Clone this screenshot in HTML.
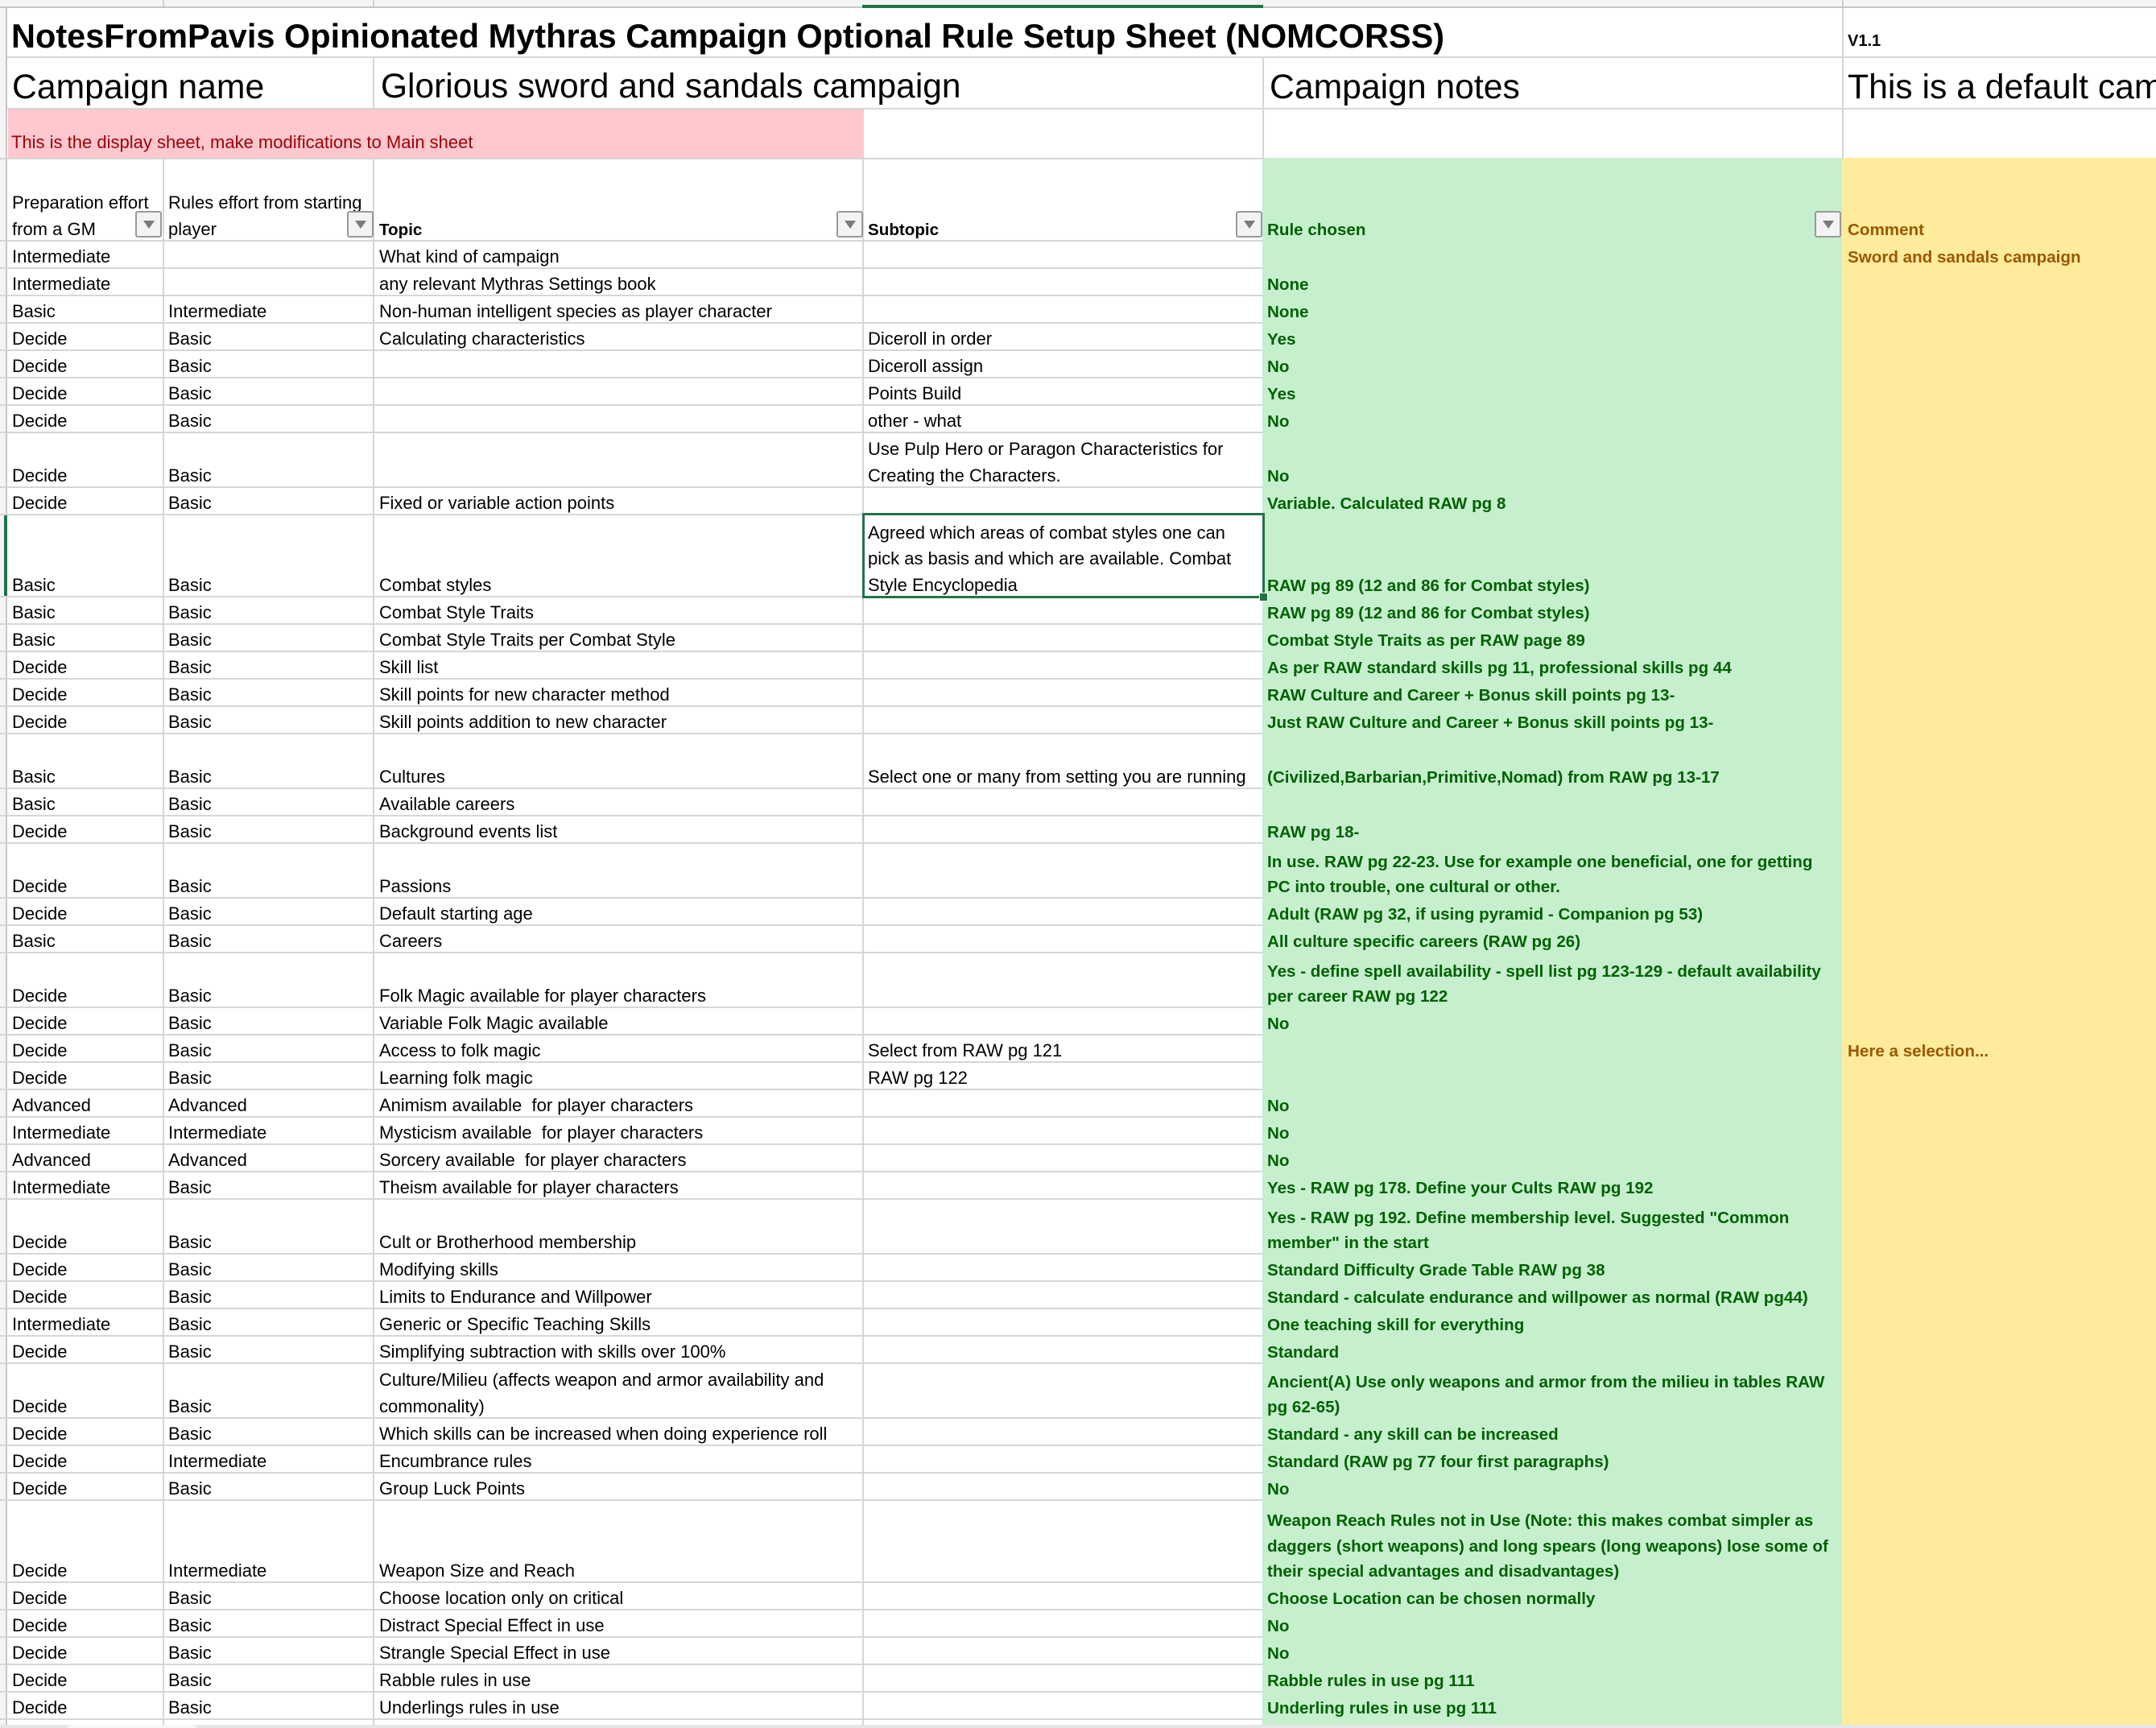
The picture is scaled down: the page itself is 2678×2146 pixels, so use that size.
<!DOCTYPE html>
<html><head><meta charset="utf-8">
<style>
html,body{margin:0;padding:0}
body{width:2678px;height:2146px;position:relative;overflow:hidden;background:#fff;font-family:"Liberation Sans",Arial,sans-serif;color:#000}
.abs{position:absolute}
.t{position:absolute;white-space:nowrap;line-height:1}
.r{position:absolute;left:0;width:2678px}
.r::before{content:"";position:absolute;left:0;top:-1px;width:1568px;height:2px;background:#d6d6d6}
.c{position:absolute;bottom:-1.5px;white-space:nowrap;font-size:22px;line-height:32.3px;color:#000}
.a{left:15px}.b{left:209px}.cc{left:471px}.d{left:1078px}
.bo{font-weight:bold;font-size:20.6px;line-height:31.3px;bottom:-2px}
.e{left:1574px;color:#006100}
.f{left:2295px;color:#9c5700}
.vl{position:absolute;width:2px;background:#d6d6d6}
.btn{position:absolute;top:262px;width:29px;height:29px;border:2px solid #9a9a9a;border-radius:3px;background:#f3f3f3}
.btn::after{content:"";position:absolute;left:8px;top:10px;border-left:7px solid transparent;border-right:7px solid transparent;border-top:10px solid #7b7b7b}
</style></head><body>

<!-- top strip -->
<div class="abs" style="left:0;top:0;width:2678px;height:8px;background:#f4f4f4"></div>
<div class="abs" style="left:0;top:8px;width:2678px;height:2px;background:#c6c6c6"></div>
<div class="abs" style="left:202px;top:0;width:2px;height:8px;background:#d0d0d0"></div>
<div class="abs" style="left:463px;top:0;width:2px;height:8px;background:#d0d0d0"></div>
<div class="abs" style="left:2288px;top:0;width:2px;height:8px;background:#d0d0d0"></div>
<div class="abs" style="left:1071px;top:6px;width:498px;height:4px;background:#217346"></div>

<!-- left strip -->
<div class="abs" style="left:0;top:10px;width:7px;height:2132px;background:#f4f4f4"></div>
<div class="abs" style="left:7px;top:10px;width:2px;height:2132px;background:#c6c6c6"></div>
<div class="abs" style="left:5px;top:639px;width:4px;height:102px;background:#217346"></div>

<!-- fills -->
<div class="abs" style="left:10px;top:136px;width:1063px;height:61px;background:#ffc7ce"></div>
<div class="abs" style="left:1568px;top:196px;width:720px;height:1946px;background:#c6efce"></div>
<div class="abs" style="left:2288px;top:196px;width:390px;height:1946px;background:#ffeb9c"></div>

<!-- upper horizontal gridlines -->
<div class="abs" style="left:9px;top:70px;width:2669px;height:2px;background:#d6d6d6"></div>
<div class="abs" style="left:9px;top:134px;width:2669px;height:2px;background:#d6d6d6"></div>

<!-- vertical gridlines -->
<div class="vl" style="left:202px;top:197px;height:1945px"></div>
<div class="vl" style="left:463px;top:71px;height:64px"></div>
<div class="vl" style="left:463px;top:197px;height:1945px"></div>
<div class="vl" style="left:1071px;top:197px;height:1945px"></div>
<div class="vl" style="left:1568px;top:71px;height:126px"></div>
<div class="vl" style="left:2288px;top:10px;height:187px"></div>

<!-- title rows -->
<div class="t" style="left:14px;top:23.6px;font-size:41.5px;font-weight:bold">NotesFromPavis Opinionated Mythras Campaign Optional Rule Setup Sheet (NOMCORSS)</div>
<div class="t" style="left:2295px;top:40.8px;font-size:20px;font-weight:bold">V1.1</div>
<div class="t" style="left:15px;top:87px;font-size:42.7px">Campaign name</div>
<div class="t" style="left:473px;top:87px;font-size:42.5px">Glorious sword and sandals campaign</div>
<div class="t" style="left:1577px;top:87px;font-size:42.7px">Campaign notes</div>
<div class="t" style="left:2295px;top:87px;font-size:42.7px">This is a default campaign</div>
<div class="t" style="left:14px;top:166px;font-size:22px;color:#9c0006">This is the display sheet, make modifications to Main sheet</div>

<!-- header row -->
<div class="r" style="top:197px;height:102.3px">
<div class="c a">Preparation effort<br>from a GM</div>
<div class="c b">Rules effort from starting<br>player</div>
<div class="c cc bo">Topic</div>
<div class="c d bo">Subtopic</div>
<div class="c e bo">Rule chosen</div>
<div class="c f bo">Comment</div>
</div>
<div class="btn" style="left:168px"></div>
<div class="btn" style="left:431px"></div>
<div class="btn" style="left:1039px"></div>
<div class="btn" style="left:1535px"></div>
<div class="btn" style="left:2254px"></div>

<!-- data rows -->
<div class="r" style="top:299.3px;height:34px"><div class="c a">Intermediate</div><div class="c cc">What kind of campaign</div><div class="c f bo">Sword and sandals campaign</div></div>
<div class="r" style="top:333.3px;height:34px"><div class="c a">Intermediate</div><div class="c cc">any relevant Mythras Settings book</div><div class="c e bo">None</div></div>
<div class="r" style="top:367.3px;height:34px"><div class="c a">Basic</div><div class="c b">Intermediate</div><div class="c cc">Non-human intelligent species as player character</div><div class="c e bo">None</div></div>
<div class="r" style="top:401.3px;height:34px"><div class="c a">Decide</div><div class="c b">Basic</div><div class="c cc">Calculating characteristics</div><div class="c d">Diceroll in order</div><div class="c e bo">Yes</div></div>
<div class="r" style="top:435.3px;height:34px"><div class="c a">Decide</div><div class="c b">Basic</div><div class="c d">Diceroll assign</div><div class="c e bo">No</div></div>
<div class="r" style="top:469.3px;height:34px"><div class="c a">Decide</div><div class="c b">Basic</div><div class="c d">Points Build</div><div class="c e bo">Yes</div></div>
<div class="r" style="top:503.3px;height:34px"><div class="c a">Decide</div><div class="c b">Basic</div><div class="c d">other - what</div><div class="c e bo">No</div></div>
<div class="r" style="top:537.3px;height:68px"><div class="c a">Decide</div><div class="c b">Basic</div><div class="c d">Use Pulp Hero or Paragon Characteristics for<br>Creating the Characters.</div><div class="c e bo">No</div></div>
<div class="r" style="top:605.3px;height:34px"><div class="c a">Decide</div><div class="c b">Basic</div><div class="c cc">Fixed or variable action points</div><div class="c e bo">Variable. Calculated RAW pg 8</div></div>
<div class="r" style="top:639.3px;height:102px"><div class="c a">Basic</div><div class="c b">Basic</div><div class="c cc">Combat styles</div><div class="c d">Agreed which areas of combat styles one can<br>pick as basis and which are available. Combat<br>Style Encyclopedia</div><div class="c e bo">RAW pg 89 (12 and 86 for Combat styles)</div></div>
<div class="r" style="top:741.3px;height:34px"><div class="c a">Basic</div><div class="c b">Basic</div><div class="c cc">Combat Style Traits</div><div class="c e bo">RAW pg 89 (12 and 86 for Combat styles)</div></div>
<div class="r" style="top:775.3px;height:34px"><div class="c a">Basic</div><div class="c b">Basic</div><div class="c cc">Combat Style Traits per Combat Style</div><div class="c e bo">Combat Style Traits as per RAW page 89</div></div>
<div class="r" style="top:809.3px;height:34px"><div class="c a">Decide</div><div class="c b">Basic</div><div class="c cc">Skill list</div><div class="c e bo">As per RAW standard skills pg 11, professional skills pg 44</div></div>
<div class="r" style="top:843.3px;height:34px"><div class="c a">Decide</div><div class="c b">Basic</div><div class="c cc">Skill points for new character method</div><div class="c e bo">RAW Culture and Career + Bonus skill points pg 13-</div></div>
<div class="r" style="top:877.3px;height:34px"><div class="c a">Decide</div><div class="c b">Basic</div><div class="c cc">Skill points addition to new character</div><div class="c e bo">Just RAW Culture and Career + Bonus skill points pg 13-</div></div>
<div class="r" style="top:911.3px;height:68px"><div class="c a">Basic</div><div class="c b">Basic</div><div class="c cc">Cultures</div><div class="c d">Select one or many from setting you are running</div><div class="c e bo">(Civilized,Barbarian,Primitive,Nomad) from RAW pg 13-17</div></div>
<div class="r" style="top:979.3px;height:34px"><div class="c a">Basic</div><div class="c b">Basic</div><div class="c cc">Available careers</div></div>
<div class="r" style="top:1013.3px;height:34px"><div class="c a">Decide</div><div class="c b">Basic</div><div class="c cc">Background events list</div><div class="c e bo">RAW pg 18-</div></div>
<div class="r" style="top:1047.3px;height:68px"><div class="c a">Decide</div><div class="c b">Basic</div><div class="c cc">Passions</div><div class="c e bo">In use. RAW pg 22-23. Use for example one beneficial, one for getting<br>PC into trouble, one cultural or other.</div></div>
<div class="r" style="top:1115.3px;height:34px"><div class="c a">Decide</div><div class="c b">Basic</div><div class="c cc">Default starting age</div><div class="c e bo">Adult (RAW pg 32, if using pyramid - Companion pg 53)</div></div>
<div class="r" style="top:1149.3px;height:34px"><div class="c a">Basic</div><div class="c b">Basic</div><div class="c cc">Careers</div><div class="c e bo">All culture specific careers (RAW pg 26)</div></div>
<div class="r" style="top:1183.3px;height:68px"><div class="c a">Decide</div><div class="c b">Basic</div><div class="c cc">Folk Magic available for player characters</div><div class="c e bo">Yes - define spell availability - spell list pg 123-129 - default availability<br>per career RAW pg 122</div></div>
<div class="r" style="top:1251.3px;height:34px"><div class="c a">Decide</div><div class="c b">Basic</div><div class="c cc">Variable Folk Magic available</div><div class="c e bo">No</div></div>
<div class="r" style="top:1285.3px;height:34px"><div class="c a">Decide</div><div class="c b">Basic</div><div class="c cc">Access to folk magic</div><div class="c d">Select from RAW pg 121</div><div class="c f bo">Here a selection...</div></div>
<div class="r" style="top:1319.3px;height:34px"><div class="c a">Decide</div><div class="c b">Basic</div><div class="c cc">Learning folk magic</div><div class="c d">RAW pg 122</div></div>
<div class="r" style="top:1353.3px;height:34px"><div class="c a">Advanced</div><div class="c b">Advanced</div><div class="c cc">Animism available&nbsp; for player characters</div><div class="c e bo">No</div></div>
<div class="r" style="top:1387.3px;height:34px"><div class="c a">Intermediate</div><div class="c b">Intermediate</div><div class="c cc">Mysticism available&nbsp; for player characters</div><div class="c e bo">No</div></div>
<div class="r" style="top:1421.3px;height:34px"><div class="c a">Advanced</div><div class="c b">Advanced</div><div class="c cc">Sorcery available&nbsp; for player characters</div><div class="c e bo">No</div></div>
<div class="r" style="top:1455.3px;height:34px"><div class="c a">Intermediate</div><div class="c b">Basic</div><div class="c cc">Theism available for player characters</div><div class="c e bo">Yes - RAW pg 178. Define your Cults RAW pg 192</div></div>
<div class="r" style="top:1489.3px;height:68px"><div class="c a">Decide</div><div class="c b">Basic</div><div class="c cc">Cult or Brotherhood membership</div><div class="c e bo">Yes - RAW pg 192. Define membership level. Suggested "Common<br>member" in the start</div></div>
<div class="r" style="top:1557.3px;height:34px"><div class="c a">Decide</div><div class="c b">Basic</div><div class="c cc">Modifying skills</div><div class="c e bo">Standard Difficulty Grade Table RAW pg 38</div></div>
<div class="r" style="top:1591.3px;height:34px"><div class="c a">Decide</div><div class="c b">Basic</div><div class="c cc">Limits to Endurance and Willpower</div><div class="c e bo">Standard - calculate endurance and willpower as normal (RAW pg44)</div></div>
<div class="r" style="top:1625.3px;height:34px"><div class="c a">Intermediate</div><div class="c b">Basic</div><div class="c cc">Generic or Specific Teaching Skills</div><div class="c e bo">One teaching skill for everything</div></div>
<div class="r" style="top:1659.3px;height:34px"><div class="c a">Decide</div><div class="c b">Basic</div><div class="c cc">Simplifying subtraction with skills over 100%</div><div class="c e bo">Standard</div></div>
<div class="r" style="top:1693.3px;height:68px"><div class="c a">Decide</div><div class="c b">Basic</div><div class="c cc">Culture/Milieu (affects weapon and armor availability and<br>commonality)</div><div class="c e bo">Ancient(A) Use only weapons and armor from the milieu in tables RAW<br>pg 62-65)</div></div>
<div class="r" style="top:1761.3px;height:34px"><div class="c a">Decide</div><div class="c b">Basic</div><div class="c cc">Which skills can be increased when doing experience roll</div><div class="c e bo">Standard - any skill can be increased</div></div>
<div class="r" style="top:1795.3px;height:34px"><div class="c a">Decide</div><div class="c b">Intermediate</div><div class="c cc">Encumbrance rules</div><div class="c e bo">Standard (RAW pg 77 four first paragraphs)</div></div>
<div class="r" style="top:1829.3px;height:34px"><div class="c a">Decide</div><div class="c b">Basic</div><div class="c cc">Group Luck Points</div><div class="c e bo">No</div></div>
<div class="r" style="top:1863.3px;height:102px"><div class="c a">Decide</div><div class="c b">Intermediate</div><div class="c cc">Weapon Size and Reach</div><div class="c e bo">Weapon Reach Rules not in Use (Note: this makes combat simpler as<br>daggers (short weapons) and long spears (long weapons) lose some of<br>their special advantages and disadvantages)</div></div>
<div class="r" style="top:1965.3px;height:34px"><div class="c a">Decide</div><div class="c b">Basic</div><div class="c cc">Choose location only on critical</div><div class="c e bo">Choose Location can be chosen normally</div></div>
<div class="r" style="top:1999.3px;height:34px"><div class="c a">Decide</div><div class="c b">Basic</div><div class="c cc">Distract Special Effect in use</div><div class="c e bo">No</div></div>
<div class="r" style="top:2033.3px;height:34px"><div class="c a">Decide</div><div class="c b">Basic</div><div class="c cc">Strangle Special Effect in use</div><div class="c e bo">No</div></div>
<div class="r" style="top:2067.3px;height:34px"><div class="c a">Decide</div><div class="c b">Basic</div><div class="c cc">Rabble rules in use</div><div class="c e bo">Rabble rules in use pg 111</div></div>
<div class="r" style="top:2101.3px;height:34px"><div class="c a">Decide</div><div class="c b">Basic</div><div class="c cc">Underlings rules in use</div><div class="c e bo">Underling rules in use pg 111</div></div>
<div class="r" style="top:2135.3px;height:7px"></div>

<!-- selection -->
<div class="abs" style="left:1071px;top:637px;width:500px;height:106px;box-sizing:border-box;border:3px solid #217346"></div>
<div class="abs" style="left:1564px;top:736px;width:9px;height:9px;background:#217346;border:1px solid #fff"></div>

<!-- bottom bar -->
<div class="abs" style="left:0;top:2142px;width:2678px;height:4px;background:#e6e6e6"></div>
<div class="abs" style="left:85px;top:2142px;width:158px;height:4px;background:#f7f7f7"></div>

</body></html>
